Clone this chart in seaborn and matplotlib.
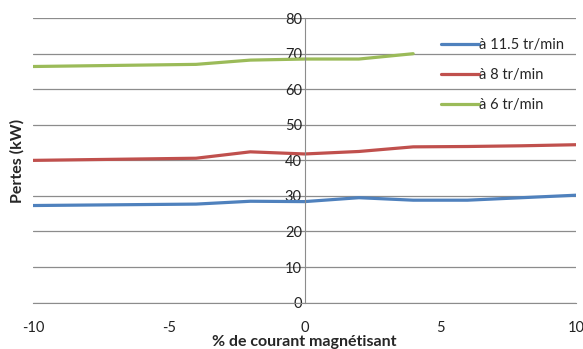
import pandas as pd
import matplotlib.pyplot as plt
import seaborn as sns

x_115 = [-10, -4, -2, 0, 2, 4, 6, 8, 10]
pertes_115 = [27.3, 27.7, 28.5, 28.4, 29.5, 28.8, 28.8, 29.5, 30.2]

x_8 = [-10, -4, -2, 0, 2, 4, 6, 8, 10]
pertes_8 = [40.0, 40.6, 42.4, 41.8, 42.5, 43.8, 43.9, 44.1, 44.4]

x_6 = [-10, -4, -2, 0, 2, 4]
pertes_6 = [66.4, 67.0, 68.2, 68.5, 68.5, 70.0]

labels = ["à 11.5 tr/min", "à 8 tr/min", "à 6 tr/min"]
colors = ["#4F81BD", "#C0504D", "#9BBB59"]

df = pd.concat([
    pd.DataFrame({"x": x_115, "Pertes": pertes_115, "serie": labels[0]}),
    pd.DataFrame({"x": x_8, "Pertes": pertes_8, "serie": labels[1]}),
    pd.DataFrame({"x": x_6, "Pertes": pertes_6, "serie": labels[2]}),
])

sns.set_style("white")
plt.rcParams['font.family'] = ['Lato', 'DejaVu Sans']
plt.rcParams['axes.unicode_minus'] = False

fig = plt.figure(figsize=(5.83, 3.49), dpi=100)
ax = fig.add_axes([0.057, 0.133, 0.931, 0.815])

sns.lineplot(data=df, x="x", y="Pertes", hue="serie", palette=colors,
             linewidth=2.3, ax=ax, sort=False)

ax.set_xlim(-10, 10)
ax.set_ylim(0, 80)
ax.set_xticks([-10, -5, 0, 5, 10])
ax.set_yticks(range(0, 81, 10))
ax.yaxis.grid(True, color="#8c8c8c", linewidth=0.9)
ax.set_axisbelow(True)

for s in ["top", "right"]:
    ax.spines[s].set_visible(False)
ax.spines["left"].set_position(("data", 0))
ax.spines["left"].set_color("#8c8c8c")
ax.spines["bottom"].set_color("#8c8c8c")
ax.tick_params(axis="x", direction="out", length=4, color="#8c8c8c",
               labelsize=10.5, pad=9, labelcolor="#222222")
ax.tick_params(axis="y", length=0, labelsize=10.5, pad=2, labelcolor="#222222")

ax.set_xlabel("% de courant magnétisant", fontsize=11.5, fontweight="bold", labelpad=0)
ax.set_ylabel("")
fig.text(0.03, 0.54, "Pertes (kW)", rotation=90, fontsize=11.5, fontweight="bold",
         ha="center", va="center")

ax.legend(loc="upper left", bbox_to_anchor=(0.74, 0.95), frameon=False,
          fontsize=10.5, handlelength=2.6, handletextpad=0.05, labelspacing=1.1,
          borderaxespad=0)

fig.savefig("out.png", dpi=100)
